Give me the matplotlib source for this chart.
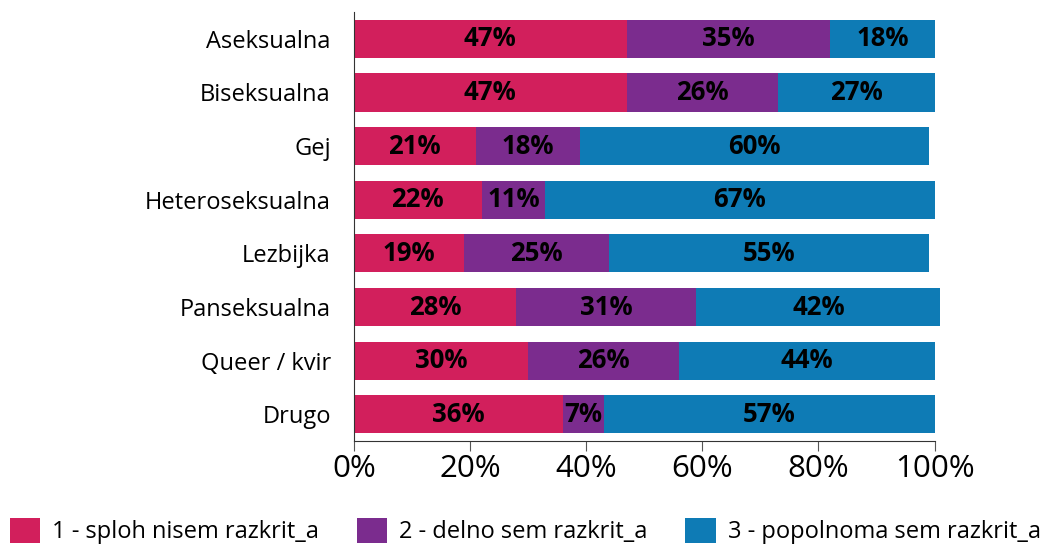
import matplotlib.pyplot as plt
import numpy as np

# Data.

categories = ["Aseksualna", "Biseksualna", "Gej", "Heteroseksualna",
              "Lezbijka", "Panseksualna", "Queer / kvir", "Drugo"]

splon_nisem = [47, 47, 21, 22, 19, 28, 30, 36]
delno_sem = [35, 26, 18, 11, 25, 31, 26, 7]
popolnoma_sem = [18, 27, 60, 67, 55, 42, 44, 57]

series_labels = ["1 - sploh nisem razkrit_a", "2 - delno sem razkrit_a",
                 "3 - popolnoma sem razkrit_a"]
series_colours = ["#D21F5C", "#7B2C8E", "#0E7BB5"]

x_ticks = [0, 20, 40, 60, 80, 100]

# Setup.

plt.rcParams['font.family'] = ['Open Sans', 'DejaVu Sans']

fig = plt.figure(figsize=(10.56, 5.46), dpi=100)
axes = fig.add_axes([0.335, 0.192, 0.55, 0.786])

y = np.arange(len(categories))
left = np.zeros(len(categories))

handles = []
for values, colour, label in zip(
        [splon_nisem, delno_sem, popolnoma_sem], series_colours, series_labels):
    values = np.array(values, dtype=float)
    bars = axes.barh(y, values, left=left, height=0.71, color=colour,
                     label=label, clip_on=False)
    handles.append(bars)
    for yi, l, v in zip(y, left, values):
        axes.text(l + v / 2., yi, "{0}%".format(int(v)), ha='center',
                  va='center', fontsize=18.5, fontweight='bold', color='k')
    left += values

# Axes.

axes.set_ylim(len(categories) - 0.5, -0.5)
axes.set_xlim(0., 100.)
axes.set_yticks(y)
axes.set_yticklabels(categories, fontsize=17)
axes.tick_params(axis='y', length=0, pad=16.5)
axes.set_xticks(x_ticks)
axes.set_xticklabels(["{0}%".format(t) for t in x_ticks], fontsize=22.5)
axes.tick_params(axis='x', length=7, color='#555555', pad=2)

for s in ['top', 'right']:
    axes.spines[s].set_visible(False)
for s in ['left', 'bottom']:
    axes.spines[s].set_color('#333333')

# Legend.

legend = fig.legend(handles=handles, loc='lower left',
                    bbox_to_anchor=(-0.011, -0.036), ncol=3, frameon=False,
                    fontsize=17, handlelength=1.3, handleheight=1.3,
                    handletextpad=0.5, columnspacing=1.6)

plt.savefig("out.png", dpi=100)
plt.close()
